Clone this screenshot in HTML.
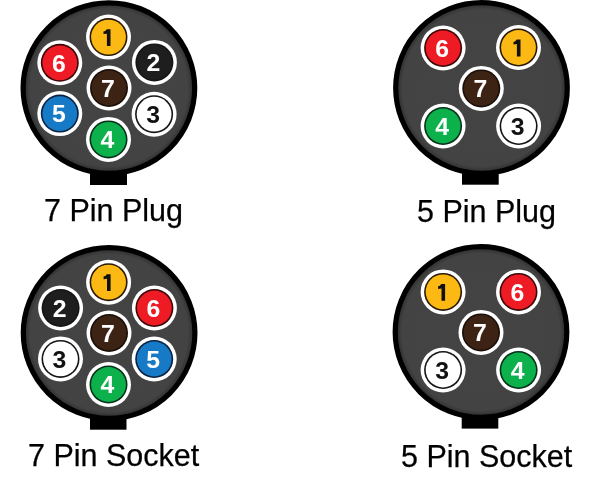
<!DOCTYPE html>
<html><head><meta charset="utf-8"><style>
html,body{margin:0;padding:0;background:#fff;width:600px;height:483px;overflow:hidden}
#wrap{position:absolute;left:0;top:0;width:600px;height:483px;filter:blur(0.55px)}
svg{position:absolute;left:0;top:0;will-change:transform}
svg text{font-family:"Liberation Sans",sans-serif;font-weight:bold;font-size:24.8px;text-anchor:middle}
.lab{position:absolute;font-family:"Liberation Sans",sans-serif;font-size:30.5px;line-height:1;white-space:nowrap;color:#000;-webkit-text-stroke:0.25px #000;will-change:transform}
</style></head><body><div id="wrap">
<svg width="600" height="483" viewBox="0 0 600 483">
<defs><radialGradient id="gg" cx="0.5" cy="0.5" r="0.5"><stop offset="0" stop-color="#444"/><stop offset="0.92" stop-color="#434343"/><stop offset="0.97" stop-color="#333"/><stop offset="1" stop-color="#222"/></radialGradient></defs>
<rect x="90" y="148.3" width="37" height="36.7" fill="#000"/>
<ellipse cx="108.9" cy="88.10" rx="85.80" ry="85.30" fill="url(#gg)" stroke="#000" stroke-width="5.2"/>
<circle cx="108.5" cy="37.1" r="22.5" fill="#fff"/>
<circle cx="108.5" cy="37.1" r="19.0" fill="#2a1a05"/>
<circle cx="108.5" cy="37.1" r="17.4" fill="#fdb913"/>
<path d="M110.50,29.20 L110.50,46.00 L106.90,46.00 L106.90,33.70 L103.50,34.10 L103.50,31.50 L105.30,30.90 L106.70,29.20Z" fill="#111"/>
<circle cx="154.4" cy="62.4" r="22.5" fill="#fff"/>
<circle cx="154.4" cy="62.4" r="19.0" fill="#151515"/>
<circle cx="154.4" cy="62.4" r="17.4" fill="#1f1e1e"/>
<text x="153.40" y="71.20" fill="#fff">2</text>
<circle cx="154.1" cy="114.2" r="22.5" fill="#fff"/>
<circle cx="154.1" cy="114.2" r="19.0" fill="#151515"/>
<circle cx="154.1" cy="114.2" r="17.4" fill="#ffffff"/>
<text x="153.10" y="123.00" fill="#111">3</text>
<circle cx="108.5" cy="139.4" r="22.5" fill="#fff"/>
<circle cx="108.5" cy="139.4" r="19.0" fill="#07301a"/>
<circle cx="108.5" cy="139.4" r="17.4" fill="#0db14b"/>
<text x="107.50" y="148.20" fill="#fff">4</text>
<circle cx="59.8" cy="113.6" r="22.5" fill="#fff"/>
<circle cx="59.8" cy="113.6" r="19.0" fill="#0a2242"/>
<circle cx="59.8" cy="113.6" r="17.4" fill="#177ac6"/>
<text x="58.80" y="122.40" fill="#fff">5</text>
<circle cx="59.8" cy="62.8" r="22.5" fill="#fff"/>
<circle cx="59.8" cy="62.8" r="19.0" fill="#3a0808"/>
<circle cx="59.8" cy="62.8" r="17.4" fill="#ee1b24"/>
<text x="58.80" y="71.60" fill="#fff">6</text>
<circle cx="109.0" cy="88.0" r="22.5" fill="#fff"/>
<circle cx="109.0" cy="88.0" r="19.0" fill="#1a0f08"/>
<circle cx="109.0" cy="88.0" r="17.4" fill="#3d2314"/>
<text x="108.00" y="96.80" fill="#fff">7</text>
<rect x="90" y="393.2" width="36.5" height="36.5" fill="#000"/>
<ellipse cx="109.1" cy="333.00" rx="85.80" ry="85.30" fill="url(#gg)" stroke="#000" stroke-width="5.2"/>
<circle cx="108.6" cy="282.2" r="22.5" fill="#fff"/>
<circle cx="108.6" cy="282.2" r="19.0" fill="#2a1a05"/>
<circle cx="108.6" cy="282.2" r="17.4" fill="#fdb913"/>
<path d="M110.60,274.30 L110.60,291.10 L107.00,291.10 L107.00,278.80 L103.60,279.20 L103.60,276.60 L105.40,276.00 L106.80,274.30Z" fill="#111"/>
<circle cx="60.6" cy="308.0" r="22.5" fill="#fff"/>
<circle cx="60.6" cy="308.0" r="19.0" fill="#151515"/>
<circle cx="60.6" cy="308.0" r="17.4" fill="#1f1e1e"/>
<text x="59.60" y="316.80" fill="#fff">2</text>
<circle cx="154.4" cy="308.0" r="22.5" fill="#fff"/>
<circle cx="154.4" cy="308.0" r="19.0" fill="#3a0808"/>
<circle cx="154.4" cy="308.0" r="17.4" fill="#ee1b24"/>
<text x="153.40" y="316.80" fill="#fff">6</text>
<circle cx="60.5" cy="358.9" r="22.5" fill="#fff"/>
<circle cx="60.5" cy="358.9" r="19.0" fill="#151515"/>
<circle cx="60.5" cy="358.9" r="17.4" fill="#ffffff"/>
<text x="59.50" y="367.70" fill="#111">3</text>
<circle cx="154.2" cy="359.0" r="22.5" fill="#fff"/>
<circle cx="154.2" cy="359.0" r="19.0" fill="#0a2242"/>
<circle cx="154.2" cy="359.0" r="17.4" fill="#177ac6"/>
<text x="153.20" y="367.80" fill="#fff">5</text>
<circle cx="108.5" cy="384.5" r="22.5" fill="#fff"/>
<circle cx="108.5" cy="384.5" r="19.0" fill="#07301a"/>
<circle cx="108.5" cy="384.5" r="17.4" fill="#0db14b"/>
<text x="107.50" y="393.30" fill="#fff">4</text>
<circle cx="109.0" cy="333.0" r="22.5" fill="#fff"/>
<circle cx="109.0" cy="333.0" r="19.0" fill="#1a0f08"/>
<circle cx="109.0" cy="333.0" r="17.4" fill="#3d2314"/>
<text x="108.00" y="341.80" fill="#fff">7</text>
<rect x="462" y="148.2" width="36.69999999999999" height="36.499999999999986" fill="#000"/>
<ellipse cx="481.5" cy="88.00" rx="85.80" ry="85.30" fill="url(#gg)" stroke="#000" stroke-width="5.2"/>
<circle cx="443.1" cy="48" r="22.5" fill="#fff"/>
<circle cx="443.1" cy="48" r="19.0" fill="#3a0808"/>
<circle cx="443.1" cy="48" r="17.4" fill="#ee1b24"/>
<text x="442.10" y="56.80" fill="#fff">6</text>
<circle cx="518.5" cy="47.5" r="22.5" fill="#fff"/>
<circle cx="518.5" cy="47.5" r="19.0" fill="#2a1a05"/>
<circle cx="518.5" cy="47.5" r="17.4" fill="#fdb913"/>
<path d="M520.50,39.60 L520.50,56.40 L516.90,56.40 L516.90,44.10 L513.50,44.50 L513.50,41.90 L515.30,41.30 L516.70,39.60Z" fill="#111"/>
<circle cx="481.3" cy="88.4" r="22.5" fill="#fff"/>
<circle cx="481.3" cy="88.4" r="19.0" fill="#1a0f08"/>
<circle cx="481.3" cy="88.4" r="17.4" fill="#3d2314"/>
<text x="480.30" y="97.20" fill="#fff">7</text>
<circle cx="443.1" cy="126" r="22.5" fill="#fff"/>
<circle cx="443.1" cy="126" r="19.0" fill="#07301a"/>
<circle cx="443.1" cy="126" r="17.4" fill="#0db14b"/>
<text x="442.10" y="134.80" fill="#fff">4</text>
<circle cx="518.6" cy="126" r="22.5" fill="#fff"/>
<circle cx="518.6" cy="126" r="19.0" fill="#151515"/>
<circle cx="518.6" cy="126" r="17.4" fill="#ffffff"/>
<text x="517.60" y="134.80" fill="#111">3</text>
<rect x="461.7" y="392.2" width="36.60000000000002" height="36.400000000000034" fill="#000"/>
<ellipse cx="481" cy="332.00" rx="85.80" ry="85.30" fill="url(#gg)" stroke="#000" stroke-width="5.2"/>
<circle cx="443.1" cy="291.9" r="22.5" fill="#fff"/>
<circle cx="443.1" cy="291.9" r="19.0" fill="#2a1a05"/>
<circle cx="443.1" cy="291.9" r="17.4" fill="#fdb913"/>
<path d="M445.10,284.00 L445.10,300.80 L441.50,300.80 L441.50,288.50 L438.10,288.90 L438.10,286.30 L439.90,285.70 L441.30,284.00Z" fill="#111"/>
<circle cx="518.5" cy="291.9" r="22.5" fill="#fff"/>
<circle cx="518.5" cy="291.9" r="19.0" fill="#3a0808"/>
<circle cx="518.5" cy="291.9" r="17.4" fill="#ee1b24"/>
<text x="517.50" y="300.70" fill="#fff">6</text>
<circle cx="481" cy="332.4" r="22.5" fill="#fff"/>
<circle cx="481" cy="332.4" r="19.0" fill="#1a0f08"/>
<circle cx="481" cy="332.4" r="17.4" fill="#3d2314"/>
<text x="480.00" y="341.20" fill="#fff">7</text>
<circle cx="443.1" cy="370" r="22.5" fill="#fff"/>
<circle cx="443.1" cy="370" r="19.0" fill="#151515"/>
<circle cx="443.1" cy="370" r="17.4" fill="#ffffff"/>
<text x="442.10" y="378.80" fill="#111">3</text>
<circle cx="518.6" cy="370" r="22.5" fill="#fff"/>
<circle cx="518.6" cy="370" r="19.0" fill="#07301a"/>
<circle cx="518.6" cy="370" r="17.4" fill="#0db14b"/>
<text x="517.60" y="378.80" fill="#fff">4</text>
</svg>
<div class="lab" style="left:44px;top:195.3px">7 Pin Plug</div>
<div class="lab" style="left:416.8px;top:195.6px">5 Pin Plug</div>
<div class="lab" style="left:28px;top:440.3px">7 Pin Socket</div>
<div class="lab" style="left:401px;top:440.6px">5 Pin Socket</div>
</div></body></html>
